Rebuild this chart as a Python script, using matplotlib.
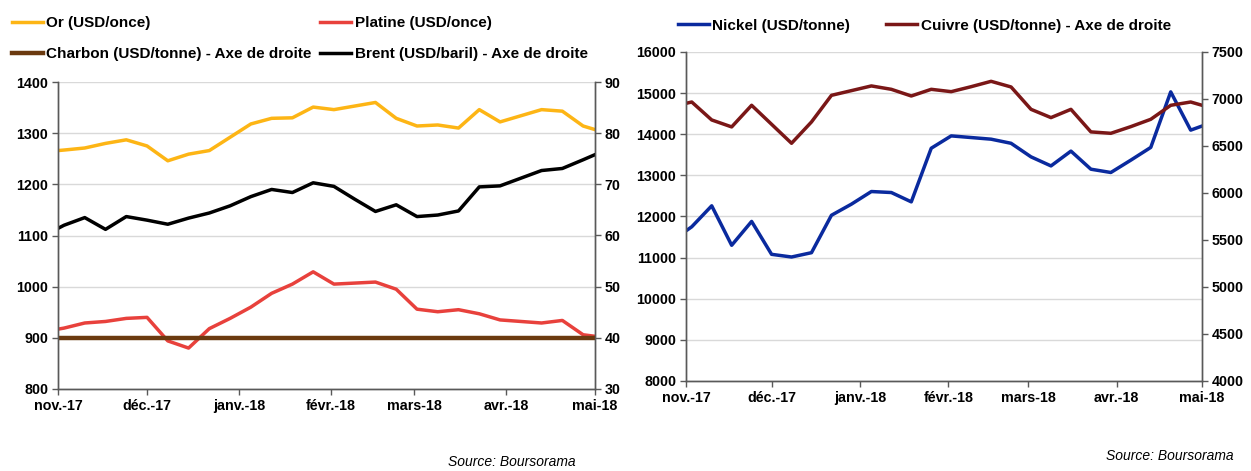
import numpy as np
import matplotlib.pyplot as plt

plt.rcParams['font.family'] = ['Liberation Sans', 'DejaVu Sans']
plt.rcParams['font.weight'] = 'bold'
plt.rcParams['font.size'] = 10

## Weekly points (Fridays), plus first and last day of the window
dates = np.array(['2017-11-01', '2017-11-03', '2017-11-10', '2017-11-17', '2017-11-24',
                  '2017-12-01', '2017-12-08', '2017-12-15', '2017-12-22', '2017-12-29',
                  '2018-01-05', '2018-01-12', '2018-01-19', '2018-01-26',
                  '2018-02-02', '2018-02-09', '2018-02-16', '2018-02-23',
                  '2018-03-02', '2018-03-09', '2018-03-16', '2018-03-23', '2018-03-30',
                  '2018-04-06', '2018-04-13', '2018-04-20', '2018-04-27', '2018-05-01'],
                 dtype='datetime64[D]')

or_usd = [1266, 1267, 1271, 1280, 1287, 1275, 1246, 1259, 1266, 1292, 1318, 1329, 1330, 1351,
          1346, 1353, 1360, 1329, 1314, 1316, 1310, 1346, 1322, 1334, 1346, 1343, 1314, 1307]
platine = [917, 919, 929, 932, 938, 940, 894, 880, 918, 938, 960, 987, 1005, 1029,
           1005, 1007, 1009, 995, 956, 951, 955, 947, 935, 932, 929, 934, 906, 903]
charbon = [40, 40, 40, 40, 40, 40, 40, 40, 40, 40, 40, 40, 40, 40,
           40, 40, 40, 40, 40, 40, 40, 40, 40, 40, 40, 40, 40, 40]
brent = [61.4, 62.0, 63.5, 61.2, 63.7, 63.0, 62.2, 63.4, 64.4, 65.8, 67.6, 69.0, 68.4, 70.3,
         69.6, 67.1, 64.7, 66.0, 63.7, 64.0, 64.8, 69.5, 69.7, 71.2, 72.7, 73.1, 74.8, 75.8]

nickel = [11652, 11750, 12260, 11300, 11880, 11080, 11015, 11120, 12030, 12300, 12607, 12583, 12356, 13660,
          13960, 13920, 13880, 13780, 13450, 13230, 13590, 13150, 13070, 13370, 13680, 15030, 14100, 14200]
cuivre = [6954, 6968, 6777, 6703, 6933, 6731, 6529, 6756, 7039, 7089, 7139, 7103, 7032, 7103,
          7078, 7131, 7188, 7128, 6890, 6802, 6890, 6650, 6635, 6706, 6784, 6933, 6968, 6933]

month_ticks = np.array(['2017-11-01', '2017-12-01', '2018-01-01', '2018-02-01',
                        '2018-03-01', '2018-04-01', '2018-05-01'], dtype='datetime64[D]')
month_labels = ['nov.-17', 'déc.-17', 'janv.-18', 'févr.-18', 'mars-18', 'avr.-18', 'mai-18']

spine_col = '#595959'
grid_col = '#D9D9D9'
lw = 2.5
leg_kw = dict(frameon=False, fontsize=11, handlelength=2.0, handletextpad=0.25,
              borderpad=0, borderaxespad=0, loc='upper left', ncol=2)


def style_axes(ax, ax2):
    ax.set_xlim(month_ticks[0], month_ticks[-1])
    ax.set_xticks(month_ticks)
    ax.set_xticklabels(month_labels)
    ax.grid(axis='y', color=grid_col, lw=1)
    ax.set_axisbelow(True)
    for a in (ax, ax2):
        a.spines['top'].set_visible(False)
        for s in ('left', 'right', 'bottom'):
            a.spines[s].set_color(spine_col)
            a.spines[s].set_linewidth(1)
        a.tick_params(length=4, color=spine_col, width=1, labelsize=10.3, pad=3)


fig = plt.figure(figsize=(12.51, 4.71), dpi=100)

## Left panel: precious metals + energy
ax = fig.add_axes([0.0464, 0.1741, 0.4292, 0.6518])
ax2 = ax.twinx()
l_or, = ax.plot(dates, or_usd, color='#FDB515', lw=lw, label='Or (USD/once)')
l_pt, = ax.plot(dates, platine, color='#E8413C', lw=lw, label='Platine (USD/once)')
l_ch, = ax2.plot(dates, charbon, color='#6B3A10', lw=3.2, label='Charbon (USD/tonne) - Axe de droite')
l_br, = ax2.plot(dates, brent, color='black', lw=lw, label='Brent (USD/baril) - Axe de droite')
ax.set_ylim(800, 1400)
ax.set_yticks(np.arange(800, 1401, 100))
ax2.set_ylim(30, 90)
ax2.set_yticks(np.arange(30, 91, 10))
style_axes(ax, ax2)
handles = [l_or, l_ch, l_pt, l_br]
fig.legend(handles, [h.get_label() for h in handles], bbox_to_anchor=(0.0096, 0.966),
           columnspacing=0.55, labelspacing=1.12, **leg_kw)

## Right panel: base metals
bx = fig.add_axes([0.5484, 0.1911, 0.4125, 0.6985])
bx2 = bx.twinx()
l_ni, = bx.plot(dates, nickel, color='#0A2A9E', lw=lw, label='Nickel (USD/tonne)')
l_cu, = bx2.plot(dates, cuivre, color='#7A1717', lw=lw, label='Cuivre (USD/tonne) - Axe de droite')
bx.set_ylim(8000, 16000)
bx.set_yticks(np.arange(8000, 16001, 1000))
bx2.set_ylim(4000, 7500)
bx2.set_yticks(np.arange(4000, 7501, 500))
style_axes(bx, bx2)
fig.legend([l_ni, l_cu], [l_ni.get_label(), l_cu.get_label()], bbox_to_anchor=(0.542, 0.96),
           columnspacing=2.35, **leg_kw)

fig.text(0.4604, 0.005, 'Source: Boursorama', ha='right', va='bottom',
         fontsize=10, style='italic', weight='normal')
fig.text(0.9864, 0.018, 'Source: Boursorama', ha='right', va='bottom',
         fontsize=10, style='italic', weight='normal')

fig.savefig('out.png', dpi=100)
